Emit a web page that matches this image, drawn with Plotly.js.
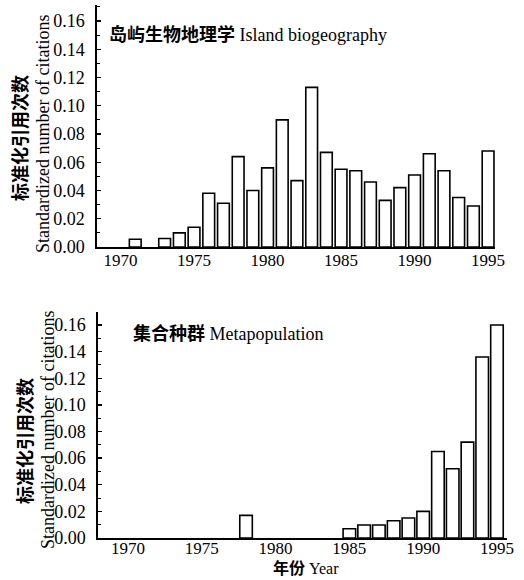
<!DOCTYPE html>
<html>
<head>
<meta charset="utf-8">
<script src="https://cdn.plot.ly/plotly-3.0.1.min.js"></script>
<style>html,body{margin:0;padding:0;background:#fff;}#chart{width:524px;height:580px;}</style>
</head>
<body>
<div id="chart"></div>
<script>
// ---- data ----
const islandYears  = [1971, 1973, 1974, 1975, 1976, 1977, 1978, 1979, 1980, 1981, 1982, 1983, 1984, 1985, 1986, 1987, 1988, 1989, 1990, 1991, 1992, 1993, 1994, 1995];
const islandValues = [0.0055, 0.006, 0.010, 0.014, 0.038, 0.031, 0.064, 0.040, 0.056, 0.090, 0.047, 0.113, 0.067, 0.055, 0.054, 0.046, 0.033, 0.042, 0.051, 0.066, 0.054, 0.035, 0.029, 0.068];
const metaYears    = [1978, 1985, 1986, 1987, 1988, 1989, 1990, 1991, 1992, 1993, 1994, 1995];
const metaValues   = [0.017, 0.007, 0.0098, 0.0098, 0.013, 0.015, 0.020, 0.065, 0.052, 0.072, 0.136, 0.160];
const xTickVals    = [1970, 1975, 1980, 1985, 1990, 1995];
const yTickVals    = [0, 0.02, 0.04, 0.06, 0.08, 0.10, 0.12, 0.14, 0.16];
const islandLabel  = "<b>岛屿生物地理学</b> Island biogeography";
const metaLabel    = "<b>集合种群</b> Metapopulation";
const yTitleCN     = "<b>标准化引用次数</b>";
const yTitleEN     = "Standardized number of citations";
const xTitle       = "<b>年份</b> Year";

const SERIF = "Liberation Serif, Times New Roman, serif";
const FONT = "Liberation Serif, Noto Sans CJK SC, serif";
const W = 524, H = 580;

const barStyle = {color: "#ffffff", line: {color: "#000000", width: 1.6}};

const traces = [
  {type: "bar", x: islandYears, y: islandValues, xaxis: "x", yaxis: "y",
   width: 0.8, marker: barStyle, hoverinfo: "x+y"},
  {type: "bar", x: metaYears, y: metaValues, xaxis: "x2", yaxis: "y2",
   width: 0.85, marker: barStyle, hoverinfo: "x+y"}
];

function xAx(domain, range, anchor, standoff) {
  return {domain: domain, range: range, anchor: anchor, tickvals: xTickVals,
    ticks: "", showline: true, linecolor: "#000", linewidth: 1.6,
    showgrid: false, zeroline: false, tickfont: {family: SERIF, size: 17, color: "#000"},
    ticklabelstandoff: standoff, fixedrange: true};
}
function yAx(domain, range, anchor) {
  return {domain: domain, range: range, anchor: anchor, tickvals: yTickVals,
    tickformat: ".2f", ticks: "inside", ticklen: 4, tickwidth: 1.3, tickcolor: "#000",
    minor: {dtick: 0.01, tick0: 0, ticks: "inside", ticklen: 2.5, tickwidth: 1, tickcolor: "#000"},
    showline: true, linecolor: "#000", linewidth: 1.6,
    showgrid: false, zeroline: false, tickfont: {family: SERIF, size: 18, color: "#000"},
    ticklabelstandoff: 7, fixedrange: true};
}

const layout = {
  width: W, height: H,
  margin: {l: 0, r: 0, t: 0, b: 0},
  paper_bgcolor: "#fff", plot_bgcolor: "#fff",
  showlegend: false,
  bargap: 0,
  font: {family: SERIF, color: "#000", size: 17},
  xaxis:  xAx([97 / W, 495 / W], [1968.4, 1995.47], "y", -3),
  yaxis:  yAx([(H - 247) / H, (H - 5) / H], [0, 0.1713], "x"),
  xaxis2: xAx([98 / W, 507 / W], [1967.97, 1995.68], "y2", -6),
  yaxis2: yAx([(H - 538) / H, (H - 312) / H], [0, 0.1698], "x2"),
  annotations: [
    {text: islandLabel, xref: "paper", yref: "paper", x: 107 / W, y: (H - 34) / H,
     xanchor: "left", yanchor: "middle", showarrow: false, font: {family: FONT, size: 18}},
    {text: metaLabel, xref: "paper", yref: "paper", x: 131 / W, y: (H - 334) / H,
     xanchor: "left", yanchor: "middle", showarrow: false, font: {family: FONT, size: 18}},
    {text: yTitleCN, xref: "paper", yref: "paper", x: 20 / W, y: (H - 138) / H,
     xanchor: "center", yanchor: "middle", textangle: -90, showarrow: false, font: {family: FONT, size: 18}},
    {text: yTitleEN, xref: "paper", yref: "paper", x: 43 / W, y: (H - 134) / H,
     xanchor: "center", yanchor: "middle", textangle: -90, showarrow: false, font: {family: FONT, size: 18}},
    {text: yTitleCN, xref: "paper", yref: "paper", x: 25 / W, y: (H - 441) / H,
     xanchor: "center", yanchor: "middle", textangle: -90, showarrow: false, font: {family: FONT, size: 18}},
    {text: yTitleEN, xref: "paper", yref: "paper", x: 48 / W, y: (H - 430) / H,
     xanchor: "center", yanchor: "middle", textangle: -90, showarrow: false, font: {family: FONT, size: 18}},
    {text: xTitle, xref: "paper", yref: "paper", x: 306 / W, y: (H - 568) / H,
     xanchor: "center", yanchor: "middle", showarrow: false, font: {family: FONT, size: 16}}
  ]
};

Plotly.newPlot("chart", traces, layout, {staticPlot: true, displayModeBar: false});
</script>
</body>
</html>
